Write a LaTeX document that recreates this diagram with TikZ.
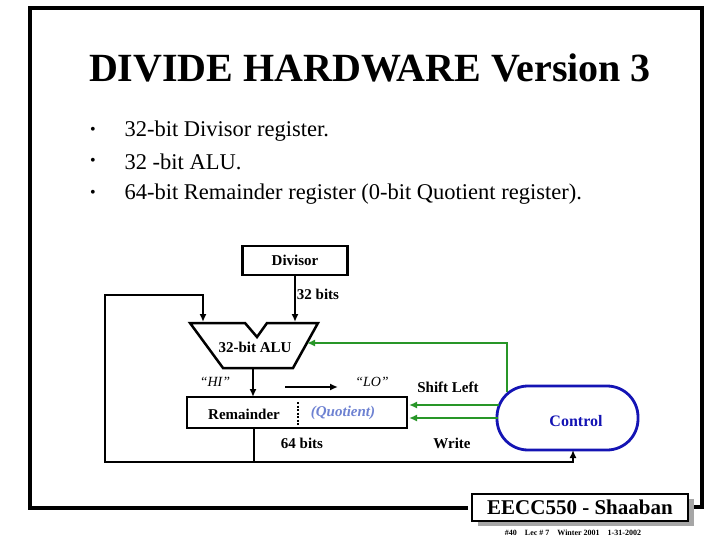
\documentclass[tikz,border=0pt]{standalone}
\usepackage{fontspec}
\setmainfont{Liberation Serif}
\usetikzlibrary{arrows.meta}
\begin{document}
\begin{tikzpicture}[x=1pt,y=-1pt,
 lbl/.style={font=\bfseries\fontsize{15}{15}\selectfont, inner sep=0},
 box/.style={draw, line width=2.5pt, inner sep=0},
 blk/.style={line width=2.2pt},
 grn/.style={line width=2.8pt, draw={rgb,255:red,40;green,150;blue,40}},
 tip/.style={-{Latex[length=8pt,width=7pt]}}]
\useasboundingbox (0,0) rectangle (720,540);
\fill[white] (0,0) rectangle (720,540);
\draw[line width=3.5pt] (468,508) -- (30,508) -- (30,8) -- (702,8) -- (702,507) -- (688,507);
\fill[gray!70] (478,499) rectangle (694,526);
\node[box, line width=2.5pt, fill=white, minimum width=216pt, minimum height=27pt] (foot) at (580,507.5) {};
\node[font=\bfseries\fontsize{21}{21}\selectfont] (foott) at (foot) {EECC550 - Shaaban};
\node[font=\bfseries\fontsize{8}{8}\selectfont] (fsub) at (573,533) {\#40\quad Lec \# 7\quad Winter 2001\quad 1-31-2002};
\node[font=\bfseries\fontsize{40}{40}\selectfont] (title) at (370,68) {DIVIDE HARDWARE Version 3};
\foreach \y/\t [count=\i] in {131/{32-bit Divisor register.},162/{32 -bit ALU.},194/{64-bit Remainder register (0-bit Quotient register).}}{
 \node[font=\fontsize{16}{16}\selectfont] (b\i) at (93,\y) {\textbullet};
 \node[anchor=west, font=\fontsize{22.5}{22.5}\selectfont] (t\i) at (121,\y) {\t};
}
\node[box, minimum width=105pt, minimum height=29pt] (div) at (295,260.5) {};
\node[lbl] (divt) at (div) {Divisor};
\coordinate (aluin2) at (295,322);
\draw[blk,tip] (div.south) -- (aluin2);
\node[lbl] (b32) at (318,294) {32 bits};
\draw[line width=2.5pt, line join=miter] (190,323) -- (245,323) -- (257,337) -- (267,323) -- (318,323) -- (293,368) -- (223,368) -- cycle;
\node[lbl] (alu) at (255,347) {32-bit ALU};
\node[box, minimum width=220pt, minimum height=31pt] (rem) at (297,412.5) {};
\node[lbl] (remt) at (244,414) {Remainder};
\draw[line width=2.5pt, dash pattern=on 2pt off 1.5pt] (298,402) -- (298,426);
\node[font=\bfseries\itshape\fontsize{15}{15}\selectfont, text={rgb,255:red,110;green,130;blue,210}, inner sep=0] (quo) at (343,413) {(Quotient)};
\node[font=\itshape\fontsize{14}{14}\selectfont, inner sep=0] (hi) at (215,382) {``HI''};
\node[font=\itshape\fontsize{14}{14}\selectfont, inner sep=0] (lo) at (372,382) {``LO''};
\coordinate (sa) at (285,387); \coordinate (sb) at (338,387);
\draw[blk,tip] (sa) -- (sb);
\coordinate (aluout) at (253,368); \coordinate (remin) at (253,397);
\draw[blk,tip] (aluout) -- (remin);
\node[lbl] (b64) at (302,443) {64 bits};
\node[lbl] (sl) at (448,387) {Shift Left};
\node[lbl] (wr) at (452,443) {Write};
\node[draw={rgb,255:red,20;green,20;blue,180}, line width=2.8pt, rounded corners=31pt, minimum width=141pt, minimum height=64pt, inner sep=0] (ctl) at (567.5,418) {};
\node[font=\bfseries\fontsize{16}{16}\selectfont, text={rgb,255:red,20;green,20;blue,180}, inner sep=0] (ctlt) at (576,421) {Control};
\coordinate (rb) at (254,428); \coordinate (j) at (254,462);
\coordinate (l1) at (105,462); \coordinate (l2) at (105,295); \coordinate (l3) at (203,295); \coordinate (aluin1) at (203,322);
\coordinate (c1) at (573,462); \coordinate (c2) at (573,450);
\draw[blk] (rb) -- (j);
\draw[blk,tip] (c1) -- (l1) -- (l2) -- (l3) -- (aluin1);
\draw[blk,tip] (j) -- (c1) -- (c2);
\coordinate (g1) at (507,392); \coordinate (g2) at (507,343); \coordinate (g3) at (307,343);
\draw[grn,tip] (g1) -- (g2) -- (g3);
\coordinate (h1) at (499,405); \coordinate (h2) at (409,405);
\coordinate (k1) at (498,418); \coordinate (k2) at (409,418);
\draw[grn,tip] (h1) -- (h2);
\draw[grn,tip] (k1) -- (k2);
\end{tikzpicture}
\end{document}
